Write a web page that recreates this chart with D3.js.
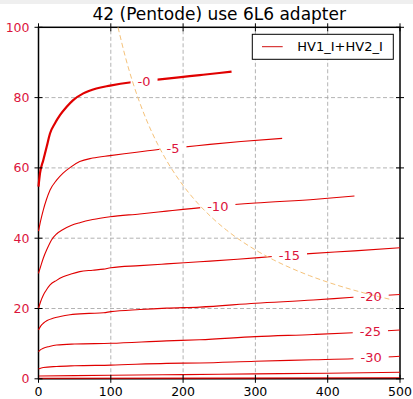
<!DOCTYPE html>
<html>
<head>
<meta charset="utf-8">
<script src="https://cdn.jsdelivr.net/npm/d3@7"></script>
<style>
  body { margin: 0; background: #fff; }
  svg { display: block; font-family: "DejaVu Sans", sans-serif; }
</style>
</head>
<body>
<svg width="413" height="399"></svg>
<script>
// plate curves: [plate volts, mA]
var curveNames = ["-0", "-5", "-10", "-15", "-20", "-25", "-30", "-35", "-40"];
var g0 = [[0,54.7],[2.1,58.5],[6.6,62.2],[11.3,66],[15.9,69.8],[22.8,72.7],[29.7,75],[39,77.4],[48,79.3],[62,81.2],[80,82.6],[99,83.4],[126,84.3],[150,84.8],[168,85.2],[200,85.9],[223,86.4],[250,87],[267,87.4]];
var g5 = [[0,42],[3,45],[6.6,48],[11,51],[16,53.7],[25,56.5],[34,58.5],[45,60.3],[57,61.8],[75,62.8],[99,63.5],[130,64.3],[168,65.3],[200,65.9],[237,66.7],[280,67.5],[337,68.4]];
var g10 = [[0,30],[3,32],[6.6,34.3],[12,37],[18,39.5],[25,41.2],[34,42.5],[45,43.6],[57,44.4],[75,45.3],[99,46.1],[140,46.9],[177,47.7],[200,48.2],[250,49.2],[300,50],[384,51.1],[437,52]];
var g15 = [[0,20],[3,22],[6.6,23.8],[10,25],[16,26.7],[25,28],[34,29],[45,29.8],[57,30.5],[75,30.9],[90,31.2],[100,31.6],[140,32.2],[177,32.7],[223,33.3],[275,34],[324,34.8],[375,35.6],[437,36.4],[500,37.3]];
var g20 = [[0,13.9],[3,15],[6.6,15.8],[12,16.6],[20,17.2],[30,17.7],[43.5,18.2],[70,18.6],[90,18.8],[100,19.1],[140,19.7],[177,20.1],[223,20.4],[300,21.5],[380,22.4],[435,23.2],[500,24]];
var g25 = [[0,7.7],[3,8.3],[6.6,8.7],[15,9.2],[25,9.6],[50,9.9],[100,10.1],[177,10.8],[223,11.1],[300,12],[380,12.6],[435,13.1],[500,13.9]];
var g30 = [[0,2.8],[6.6,3.2],[25,3.5],[50,3.7],[100,3.9],[177,4.4],[223,4.5],[300,5],[380,5.4],[435,5.7],[500,6.4]];
var g35 = [[0,0.8],[50,0.9],[100,1],[200,1.2],[300,1.4],[400,1.6],[500,1.85]];
var g40 = [[0,0.15],[250,0.2],[500,0.3]];
// where the grid voltage labels sit [V, mA], null = no label
var labelAt = [[146,84.7],[186,65.6],[248,49],[347,35.2],[460,23.6],[459,13.6],[460,6.1],null,null];
var xTicks = [0, 100, 200, 300, 400, 500];
var yTicks = [0, 20, 40, 60, 80, 100];
var maxWatts = 11;   // plate dissipation line
var hypV = [110,120,130,140,150,165,180,200,220,240,260,280,300,325,350,375,400,425,450,470,490];

var curves = [g0, g5, g10, g15, g20, g25, g30, g35, g40];

var svg = d3.select("svg");
var margin = {left: 38.5, right: 13, top: 27.3, bottom: 20.2};
var W = 413 - margin.left - margin.right,
    H = 399 - margin.top - margin.bottom;

svg.append("rect").attr("width", 413).attr("height", 4).attr("fill", "#efefef");

var x = d3.scaleLinear().domain([0, 500]).range([margin.left, margin.left + W]);
var y = d3.scaleLinear().domain([0, 100]).range([margin.top + H, margin.top]);

var red = "#e00000", crimson = "#dc143c";

// grid
var grid = svg.append("g").attr("stroke", "#a0a0a0").attr("stroke-dasharray", "4,2.5").attr("stroke-width", 0.8);
xTicks.slice(1, -1).forEach(function(t) {
  grid.append("line").attr("x1", x(t)).attr("x2", x(t)).attr("y1", y(0)).attr("y2", y(100));
});
yTicks.slice(1, -1).forEach(function(t) {
  grid.append("line").attr("x1", x(0)).attr("x2", x(500)).attr("y1", y(t)).attr("y2", y(t));
});

// frame
svg.append("rect").attr("x", x(0)).attr("y", y(100)).attr("width", W).attr("height", H)
  .attr("fill", "none").attr("stroke", "#000").attr("stroke-width", 1.5);

var line = d3.line().x(function(d) { return x(d[0]); }).y(function(d) { return y(d[1]); })
  .curve(d3.curveMonotoneX);

svg.append("g").selectAll("path").data(curves).enter().append("path")
  .attr("d", line)
  .attr("fill", "none")
  .attr("stroke", red)
  .attr("stroke-width", function(d, i) { return i == 0 ? 2.2 : 1.1; });

// label text first (to measure), then white gaps under it
var gaps = svg.append("g");
var labs = svg.append("g");
curveNames.forEach(function(name, i) {
  var p = labelAt[i];
  if (!p) return;
  var t = labs.append("text").attr("x", x(p[0])).attr("y", y(p[1])).attr("dy", "0.36em")
    .attr("text-anchor", "middle").attr("font-size", 13).attr("fill", crimson).text(name);
  var bb = t.node().getBBox();
  gaps.append("rect").attr("x", bb.x - 7).attr("y", y(p[1]) - 5)
    .attr("width", bb.width + 14).attr("height", 10).attr("fill", "#fff");
});

// dissipation hyperbola, over the gaps
var hyp = hypV.map(function(v) { return [v, maxWatts * 1000 / v]; });
svg.insert("path", function() { return labs.node(); }).datum(hyp)
  .attr("d", line)
  .attr("fill", "none").attr("stroke", "#f5c27a").attr("stroke-width", 1)
  .attr("stroke-dasharray", "5,3");

// ticks on all four sides
var tk = svg.append("g").attr("stroke", "#000").attr("stroke-width", 1);
xTicks.forEach(function(t) {
  tk.append("line").attr("x1", x(t)).attr("x2", x(t)).attr("y1", y(0) - 4).attr("y2", y(0) + 4);
  tk.append("line").attr("x1", x(t)).attr("x2", x(t)).attr("y1", y(100) - 4).attr("y2", y(100) + 4);
});
yTicks.forEach(function(t) {
  tk.append("line").attr("x1", x(0) - 4).attr("x2", x(0) + 4).attr("y1", y(t)).attr("y2", y(t));
  tk.append("line").attr("x1", x(500) - 4).attr("x2", x(500) + 4).attr("y1", y(t)).attr("y2", y(t));
});

svg.append("g").selectAll("text").data(xTicks).enter().append("text")
  .attr("x", function(d) { return x(d); }).attr("y", 396)
  .attr("text-anchor", "middle").attr("font-size", 12.5).attr("fill", "#000")
  .text(function(d) { return d; });

svg.append("g").selectAll("text").data(yTicks).enter().append("text")
  .attr("x", x(0) - 9).attr("y", function(d) { return y(d); }).attr("dy", "0.36em")
  .attr("text-anchor", "end").attr("font-size", 12.5).attr("fill", crimson)
  .text(function(d) { return d; });

// title
svg.append("text").attr("x", x(250)).attr("y", 20).attr("text-anchor", "middle")
  .attr("font-size", 17).attr("fill", "#000").text("42 (Pentode) use 6L6 adapter");

// legend
var lg = svg.append("g");
lg.append("rect").attr("x", 252.3).attr("y", 34.3).attr("width", 141).attr("height", 25)
  .attr("fill", "#fff").attr("stroke", "#000").attr("stroke-width", 1);
lg.append("line").attr("x1", 262).attr("x2", 282.7).attr("y1", 46.7).attr("y2", 46.7)
  .attr("stroke", "#d01010").attr("stroke-width", 1);
lg.append("text").attr("x", 297.3).attr("y", 46.7).attr("dy", "0.36em")
  .attr("font-size", 13).attr("fill", "#000").text("HV1_I+HV2_I");
</script>
</body>
</html>
